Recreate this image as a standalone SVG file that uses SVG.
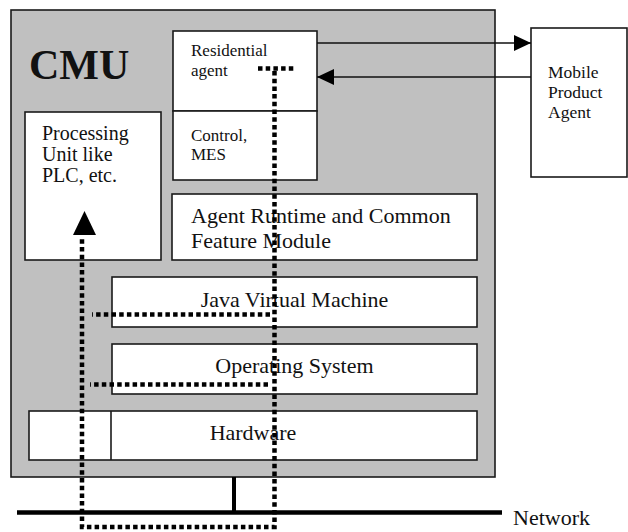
<svg xmlns="http://www.w3.org/2000/svg" width="628" height="532" viewBox="0 0 628 532">
  <style>
    .box { fill: #ffffff; stroke: #1a1a1a; stroke-width: 1.6; }
    .frame { fill: #c0c0c0; stroke: #1a1a1a; stroke-width: 1.6; }
    .t { font-family: "Liberation Serif", "Times New Roman", serif; fill: #111; }
    .link { fill: none; stroke: #111; stroke-width: 1.6; }
    .dot { fill: none; stroke: #000; stroke-width: 4.5; stroke-dasharray: 4.5 3.2; }
    .net { fill: none; stroke: #000; }
  </style>
  <defs>
    <marker id="head" viewBox="0 0 17 16" refX="17" refY="8" markerWidth="17" markerHeight="16" markerUnits="userSpaceOnUse" orient="auto">
      <path d="M0,0 L17,8 L0,16 Z" fill="#000"/>
    </marker>
  </defs>

  <!-- CMU enclosure -->
  <g id="cmu">
    <rect class="frame" x="11" y="10" width="484" height="467"/>
    <text class="t" x="29" y="79" font-size="42" font-weight="bold">CMU</text>
  </g>

  <g id="residential-agent">
    <rect class="box" x="173" y="31" width="144" height="80"/>
    <text class="t" x="191" y="56" font-size="17">Residential</text>
    <text class="t" x="191" y="76" font-size="17">agent</text>
  </g>

  <g id="control-mes">
    <rect class="box" x="173" y="111" width="144" height="69"/>
    <text class="t" x="191" y="141" font-size="17">Control,</text>
    <text class="t" x="191" y="160" font-size="17">MES</text>
  </g>

  <g id="processing-unit">
    <rect class="box" x="25" y="112" width="136" height="148"/>
    <text class="t" x="42" y="140" font-size="20">Processing</text>
    <text class="t" x="42" y="161" font-size="20">Unit like</text>
    <text class="t" x="42" y="182" font-size="20">PLC, etc.</text>
  </g>

  <g id="agent-runtime">
    <rect class="box" x="172" y="194" width="305" height="66"/>
    <text class="t" x="191" y="223" font-size="22">Agent Runtime and Common</text>
    <text class="t" x="191" y="248" font-size="22">Feature Module</text>
  </g>

  <g id="jvm">
    <rect class="box" x="112" y="277" width="365" height="50"/>
    <text class="t" x="294.5" y="307" font-size="22" text-anchor="middle">Java Virtual Machine</text>
  </g>

  <g id="operating-system">
    <rect class="box" x="112" y="344" width="365" height="50"/>
    <text class="t" x="294.5" y="373" font-size="22" text-anchor="middle">Operating System</text>
  </g>

  <g id="hardware">
    <rect class="box" x="29" y="411" width="448" height="49"/>
    <line x1="111" y1="411" x2="111" y2="460" stroke="#1a1a1a" stroke-width="1.6"/>
    <text class="t" x="253" y="440" font-size="22" text-anchor="middle">Hardware</text>
  </g>

  <g id="mobile-product-agent">
    <rect class="box" x="531" y="28" width="96" height="149"/>
    <text class="t" x="548" y="78" font-size="17.5">Mobile</text>
    <text class="t" x="548" y="98" font-size="17.5">Product</text>
    <text class="t" x="548" y="118" font-size="17.5">Agent</text>
  </g>

  <g id="network">
    <line class="net" x1="17" y1="512.5" x2="502" y2="512.5" stroke-width="4.5"/>
    <text class="t" x="513" y="525" font-size="22">Network</text>
  </g>

  <g id="connectors">
    <line class="link" x1="317" y1="43" x2="531" y2="43" marker-end="url(#head)"/>
    <line class="link" x1="531" y1="77" x2="317" y2="77" marker-end="url(#head)"/>
    <line class="net" x1="234" y1="477" x2="234" y2="512" stroke-width="4"/>

    <!-- message path through the software stack -->
    <path class="dot" d="M258,68.5 L296,68.5"/>
    <path class="dot" d="M274.5,71 L274.5,527 L82,527 L82,239"/>
    <path class="dot" d="M270,314.5 L92,314.5"/>
    <path class="dot" d="M268,384.5 L90,384.5"/>
    <polygon points="84.5,211 73,235 96,235" fill="#000"/>
  </g>
</svg>
